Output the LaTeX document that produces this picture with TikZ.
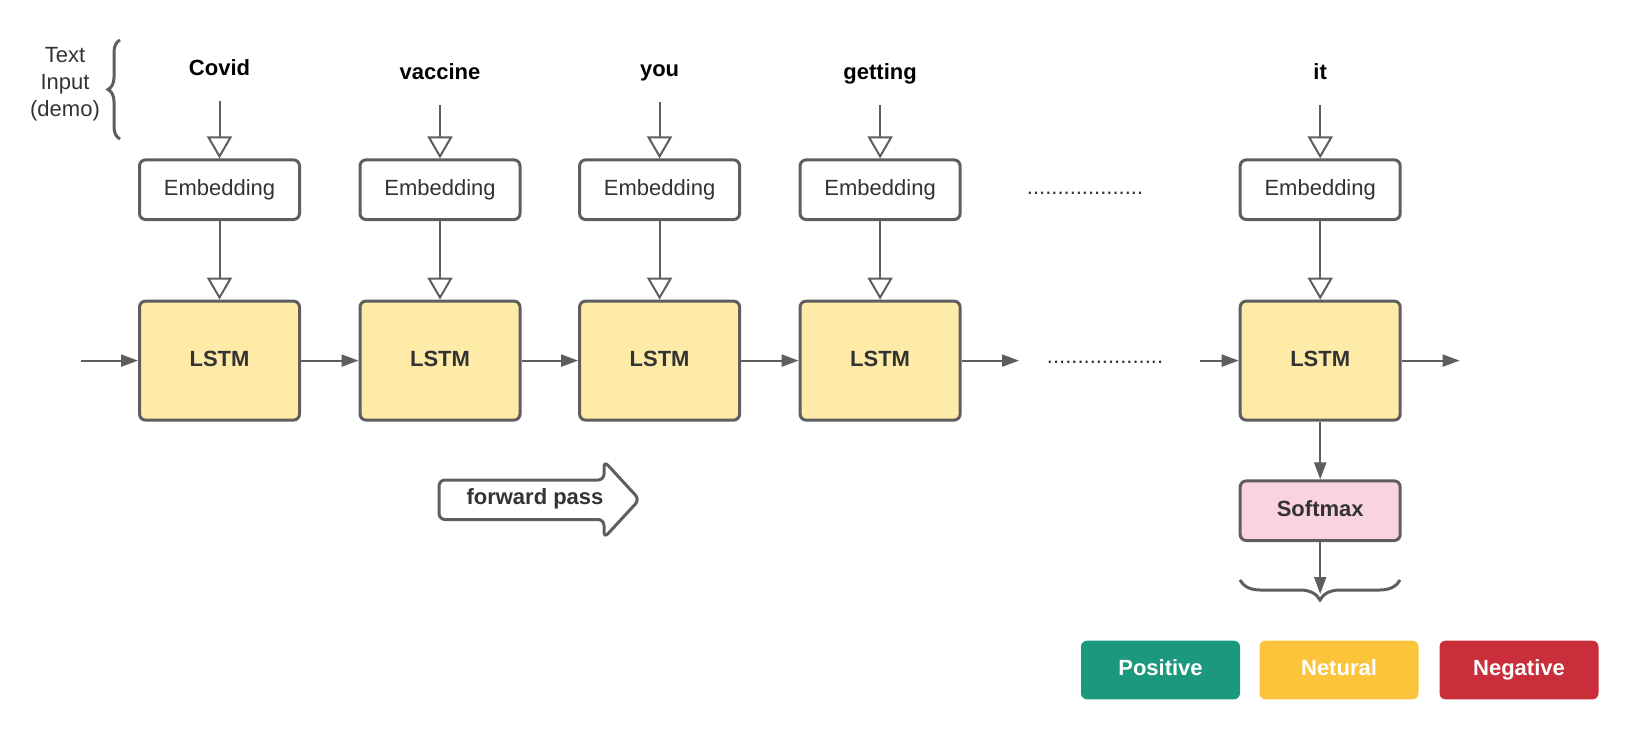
\documentclass[tikz,border=0pt]{standalone}
\usepackage{fontspec}
\setmainfont{Liberation Sans}
\usetikzlibrary{arrows.meta,decorations.pathreplacing}

\definecolor{linegray}{HTML}{5E5E5E}
\definecolor{textgray}{HTML}{333333}
\definecolor{lstmfill}{HTML}{FFEBA8}
\definecolor{softfill}{HTML}{F9D3DF}
\definecolor{posgreen}{HTML}{1B987E}
\definecolor{neuyellow}{HTML}{FBC43A}
\definecolor{negred}{HTML}{C92E3A}

\tikzset{
  basefont/.style={font=\fontsize{11}{13.5}\selectfont},
  embbox/.style={basefont, draw=linegray, line width=1.5pt, rounded corners=3pt, fill=white,
    minimum width=80pt, minimum height=29.8pt, inner sep=0pt, text=textgray,
    text height=8pt, text depth=2.5pt},
  lstmbox/.style={embbox, fill=lstmfill, minimum height=59.5pt, font=\fontsize{11}{13.5}\selectfont\bfseries},
  softbox/.style={embbox, fill=softfill, font=\fontsize{11}{13.5}\selectfont\bfseries},
  legbox/.style={basefont, font=\fontsize{11}{13.5}\selectfont\bfseries, text=white, rounded corners=3pt,
    minimum width=79.5pt, minimum height=29.3pt, inner sep=0pt, text height=8pt, text depth=2.5pt},
  word/.style={font=\fontsize{11}{13.5}\selectfont\bfseries, anchor=base, text depth=2.5pt, inner ysep=10.5pt},
  flow/.style={draw=linegray, line width=1pt, -{Triangle[length=8.5pt,width=6pt]}},
  feed/.style={draw=linegray, line width=1pt, -{Triangle[open,length=11pt,width=12.5pt,fill=white]}},
}

\begin{document}
\begin{tikzpicture}[x=0.5pt,y=-0.5pt]
  \useasboundingbox (0,0) rectangle (1639,740);

  % text input
  \node[basefont, text=textgray, align=center] (input) at (65,84.5) {Text\\Input\\(demo)};
  \draw[linegray, line width=1.5pt, decorate, decoration={brace,amplitude=6pt}] (120,139) -- (120,40);

  \node[word] (w1) at (219.5,75) {Covid};
  \node[word] (w2) at (440,79) {vaccine};
  \node[word] (w3) at (659.6,76) {you};
  \node[word] (w4) at (880.1,79) {getting};
  \node[word] (w5) at (1320.2,79) {it};

  \node[embbox] (e1) at (219.5,189.7) {Embedding};
  \node[embbox] (e2) at (440,189.7) {Embedding};
  \node[embbox] (e3) at (659.6,189.7) {Embedding};
  \node[embbox] (e4) at (880.1,189.7) {Embedding};
  \node[embbox] (e5) at (1320.2,189.7) {Embedding};

  \node[lstmbox] (l1) at (219.5,360.6) {LSTM};
  \node[lstmbox] (l2) at (440,360.6) {LSTM};
  \node[lstmbox] (l3) at (659.6,360.6) {LSTM};
  \node[lstmbox] (l4) at (880.1,360.6) {LSTM};
  \node[lstmbox] (l5) at (1320.2,360.6) {LSTM};

  \node[basefont, text=textgray] (dotstop) at (1085,193) {...................};
  \node[basefont, text=textgray] (dotsbot) at (1105,362) {...................};

  \draw[feed] (w1.south) -- (e1.north);
  \draw[feed] (w2.south) -- (e2.north);
  \draw[feed] (w3.south) -- (e3.north);
  \draw[feed] (w4.south) -- (e4.north);
  \draw[feed] (w5.south) -- (e5.north);

  \draw[feed] (e1) -- (l1);
  \draw[feed] (e2) -- (l2);
  \draw[feed] (e3) -- (l3);
  \draw[feed] (e4) -- (l4);
  \draw[feed] (e5) -- (l5);

  \coordinate (in1) at (80.5,360.6);
  \coordinate (out4) at (1019,360.6);
  \coordinate (in5) at (1200,360.6);
  \coordinate (out5) at (1459.6,360.6);
  \draw[flow] (in1) -- (l1);
  \draw[flow] (l1) -- (l2);
  \draw[flow] (l2) -- (l3);
  \draw[flow] (l3) -- (l4);
  \draw[flow] (l4) -- (out4);
  \draw[flow] (in5) -- (l5);
  \draw[flow] (l5) -- (out5);

  % forward pass arrow
  \draw[linegray, line width=1.5pt, fill=white, rounded corners=3pt]
    (439,480) -- (604,480) -- (604,461) -- (639.5,499.5) -- (604,538) -- (604,519.5) -- (439,519.5) -- cycle;
  \node[basefont, font=\fontsize{11}{13.5}\selectfont\bfseries, text=textgray] (fwd) at (535,498.5) {forward pass};

  % output
  \node[softbox] (soft) at (1320.2,510.7) {Softmax};
  \draw[flow] (l5) -- (soft);
  \draw[linegray, line width=1.5pt, decorate, decoration={brace,mirror,amplitude=10pt}] (1240,580) -- (1400,580);
  \coordinate (tip) at (1320.2,594);
  \draw[flow] (soft) -- (tip);

  \node[legbox, fill=posgreen] (pos) at (1160.5,670) {Positive};
  \node[legbox, fill=neuyellow] (neu) at (1339,670) {Netural};
  \node[legbox, fill=negred] (neg) at (1519,670) {Negative};
\end{tikzpicture}
\end{document}
